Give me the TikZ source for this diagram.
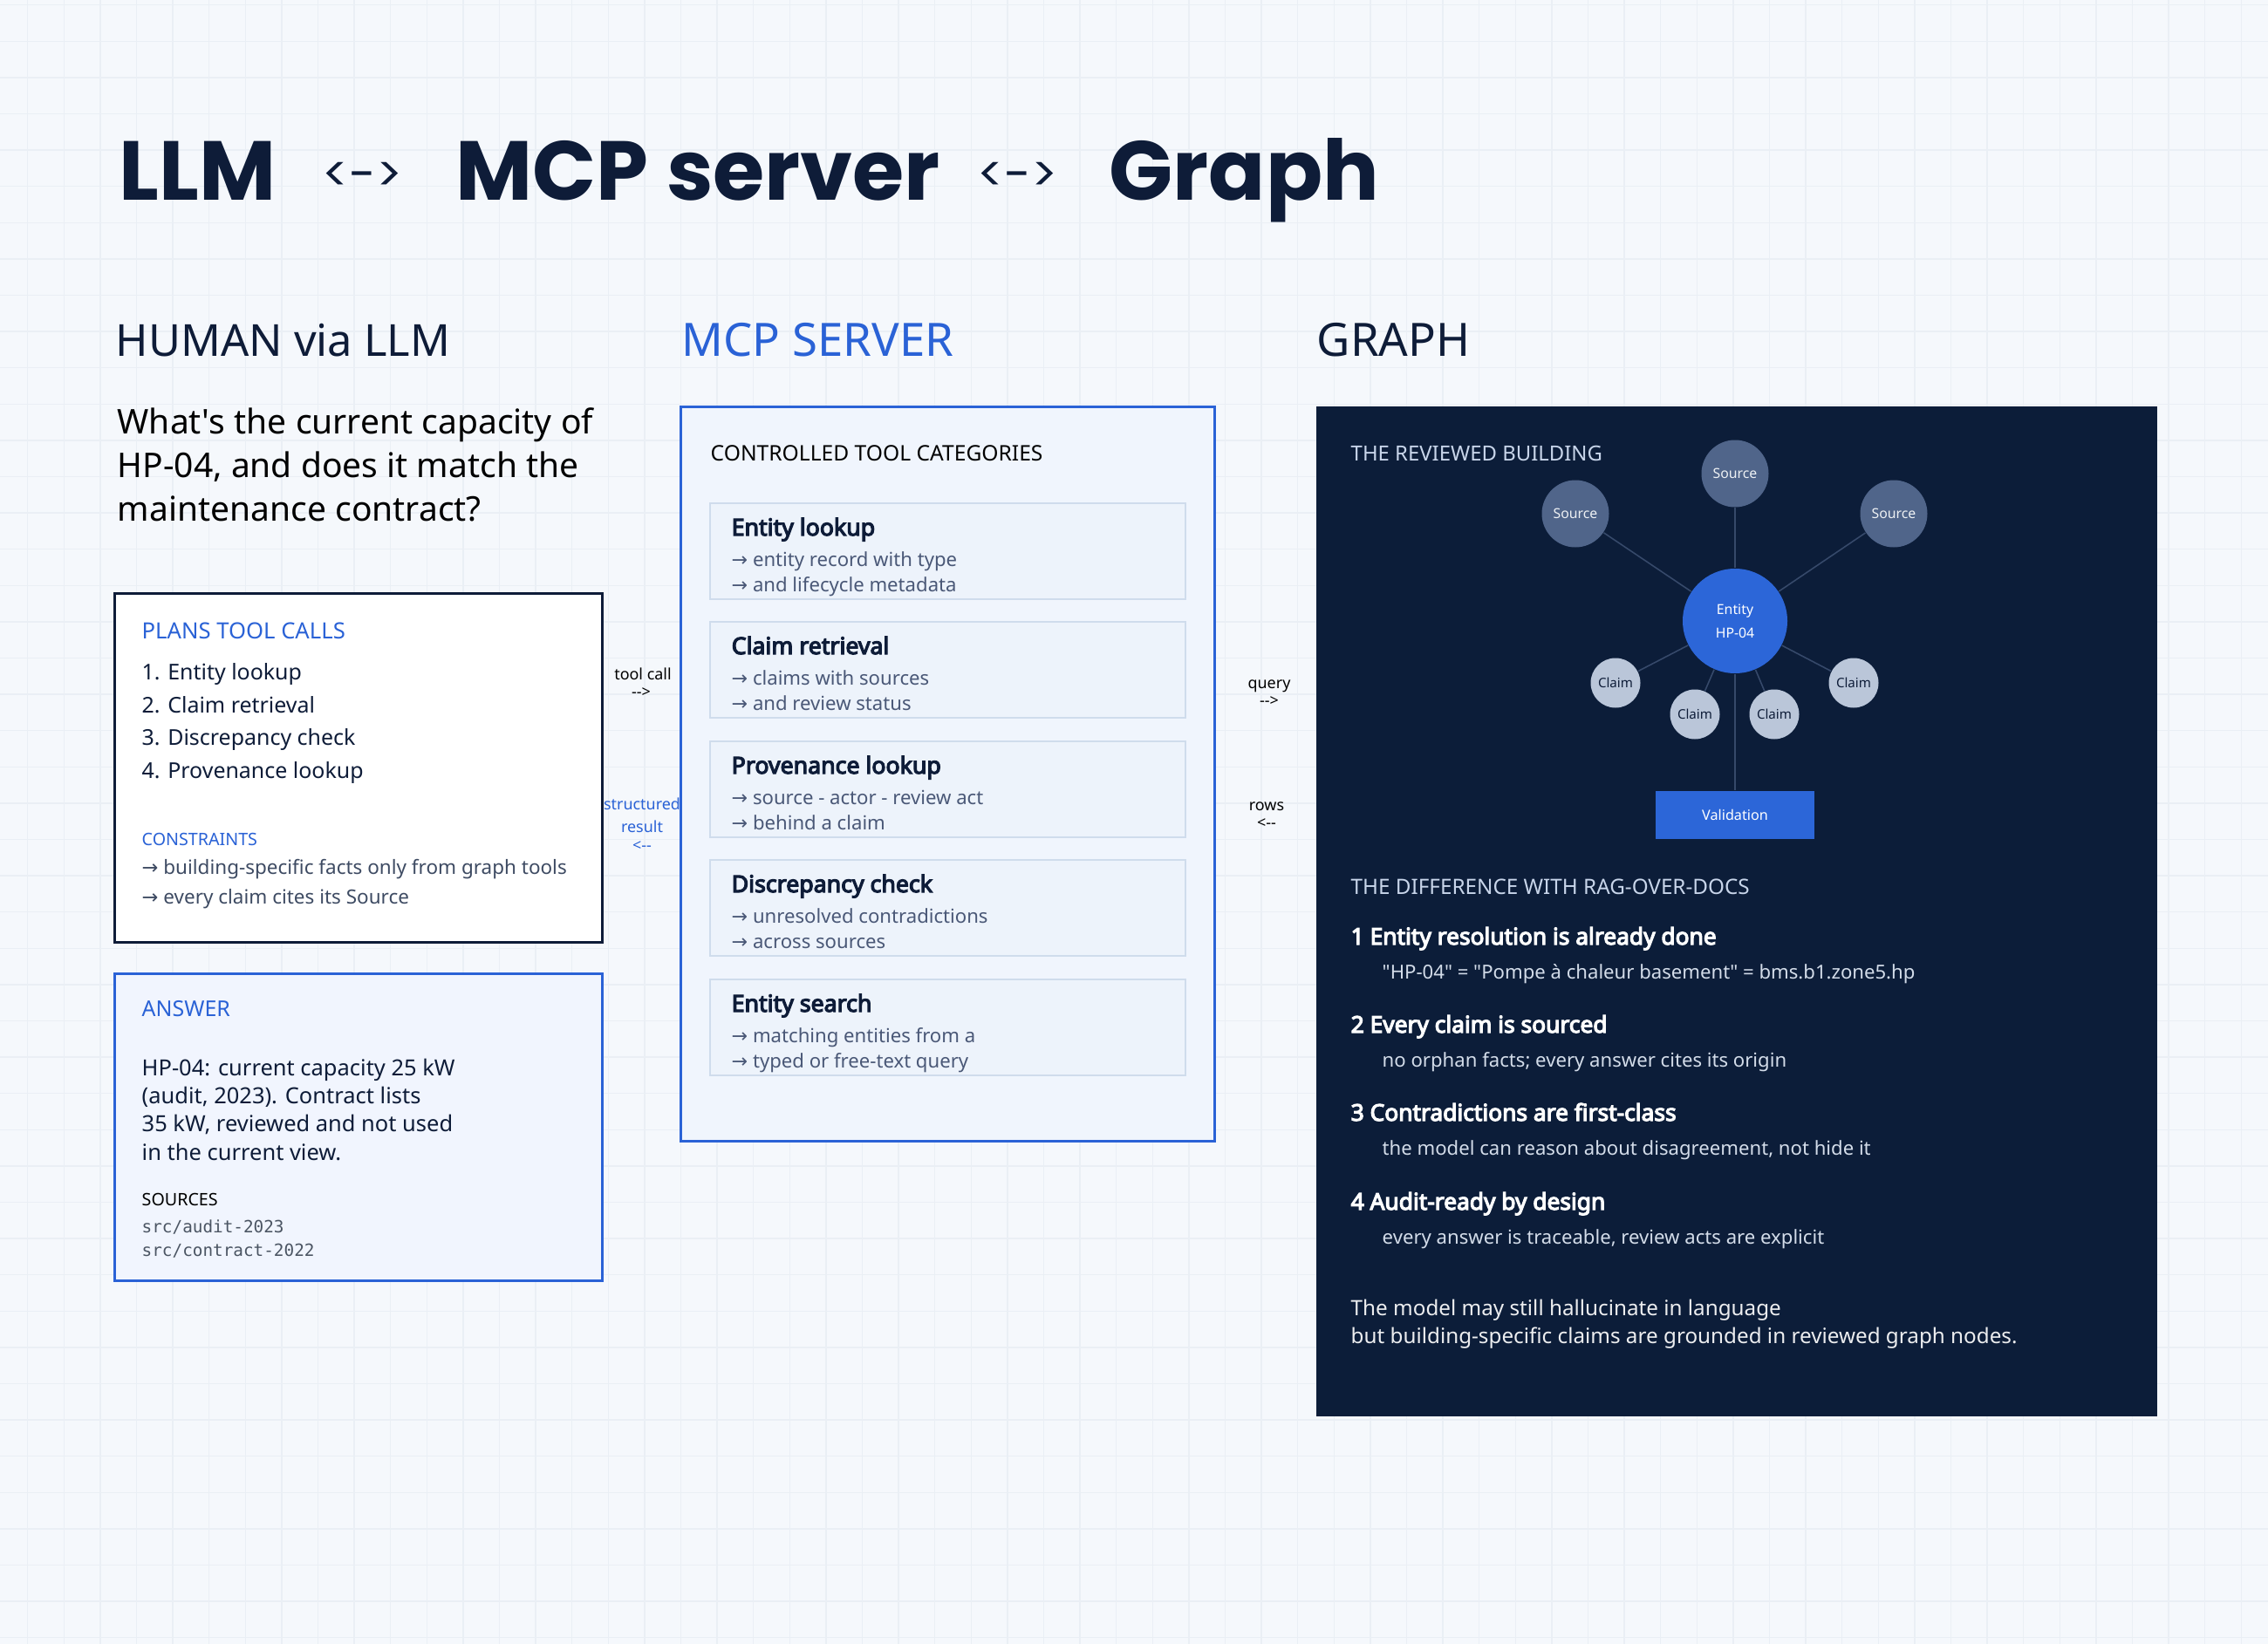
\documentclass[tikz,border=0pt]{standalone}
\usepackage{fontspec}
\setmainfont{Noto Sans}[BoldFont={Noto Sans},BoldFeatures={FakeBold=4.5}]
\setmonofont{DejaVu Sans Mono}
\newfontfamily\titlefont{Poppins}
\newfontfamily\symfont{DejaVu Sans}
\newcommand{\rarr}{{\symfont →}}
\newcommand{\fwd}{-\kern0pt-\kern0pt>}
\newcommand{\bwd}{<\kern0pt-\kern0pt-}

\definecolor{bgcol}{HTML}{F5F8FC}
\definecolor{gridcol}{HTML}{EAEFF5}
\definecolor{navy}{HTML}{0E1C38}
\definecolor{accent}{HTML}{2A62D6}
\definecolor{slate}{HTML}{3E4B63}
\definecolor{mcpfill}{HTML}{F0F5FD}
\definecolor{toolfill}{HTML}{EDF3FB}
\definecolor{toolrule}{HTML}{CFDCEC}
\definecolor{toolgray}{HTML}{4A5877}
\definecolor{ansfill}{HTML}{F1F5FE}
\definecolor{panel}{HTML}{0C1D39}
\definecolor{srcfill}{HTML}{50658A}
\definecolor{clmfill}{HTML}{BAC6D9}
\definecolor{edgecol}{HTML}{36496A}
\definecolor{entfill}{HTML}{2C66D8}
\definecolor{paleblue}{HTML}{C8D5EA}
\definecolor{paletext}{HTML}{D3DCE9}
\definecolor{monogray}{HTML}{4B5563}

\begin{document}
\begin{tikzpicture}[x=1cm,y=-1cm,
  txt/.style={inner sep=0pt,anchor=base west},
  ctr/.style={inner sep=0pt,anchor=base},
  card/.style={anchor=north west,inner sep=0pt,line width=0.85pt},
  toolcard/.style={card,draw=toolrule,fill=toolfill,line width=0.6pt,minimum width=5.45cm,minimum height=1.10cm},
  tooltitle/.style={txt,font=\bfseries\fontsize{7.6}{8}\selectfont,text=navy},
  tooltxt/.style={txt,font=\fontsize{6.3}{7.5}\selectfont,text=toolgray},
  kicker/.style={txt,font=\fontsize{7.0}{8}\selectfont},
  small/.style={txt,font=\fontsize{5.6}{6.5}\selectfont},
  head/.style={txt,font=\fontsize{14.4}{17}\selectfont},
  body/.style={txt,font=\fontsize{7.1}{8.5}\selectfont},
  tiny/.style={ctr,font=\fontsize{5.1}{6}\selectfont},
  dot/.style={circle,inner sep=0pt,font=\fontsize{4.5}{7.6}\selectfont},
  srcnode/.style={dot,fill=srcfill,text=white!90!srcfill,minimum size=0.77cm},
  entnode/.style={dot,fill=entfill,text=white,minimum size=1.20cm,align=center},
  clmnode/.style={dot,fill=clmfill,text=navy,minimum size=0.57cm,font=\fontsize{4.3}{5}\selectfont},
  link/.style={draw=edgecol,line width=0.45pt}
]
% page and grid
\useasboundingbox (0,0) rectangle (26,18.85);
\fill[bgcol] (0,0) rectangle (26,18.85);
\foreach \i in {0,...,62}
  \draw[gridcol,line width=0.4pt] ({0.317+0.416*\i},0) -- ++(0,18.85);
\foreach \j in {0,...,45}
  \draw[gridcol,line width=0.4pt] (0,{0.057+0.416*\j}) -- ++(26,0);

% title
\begin{scope}[inner sep=0pt,anchor=base west,text=navy]
\node[font=\titlefont\bfseries\fontsize{27.3}{32}\selectfont] (llm) at (1.36,2.30) {LLM};
\node[font=\titlefont\fontsize{15.9}{18}\selectfont] (arr1) at (3.69,2.19) {<->};
\node[font=\titlefont\bfseries\fontsize{27.3}{32}\selectfont] (mcpt) at (5.22,2.30) {MCP server};
\node[font=\titlefont\fontsize{15.9}{18}\selectfont] (arr2) at (11.20,2.19) {<->};
\node[font=\titlefont\bfseries\fontsize{27.3}{32}\selectfont] (graph) at (12.71,2.30) {Graph};
\end{scope}

% column heads
\node[head,text=navy] (human) at (1.32,4.09) {HUMAN via LLM};
\node[head,text=accent,font=\fontsize{15.0}{17}\selectfont] (server) at (7.81,4.09) {MCP SERVER};
\node[head,text=navy,font=\fontsize{15.0}{17}\selectfont] (graphhead) at (15.09,4.09) {GRAPH};

% question
\begin{scope}[txt,font=\fontsize{11.1}{14}\selectfont,text=black]
\node (q1) at (1.34,4.97) {What\textquotesingle s the current capacity of};
\node (q2) at (1.34,5.47) {HP-04, and does it match the};
\node (q3) at (1.34,5.97) {maintenance contract?};
\end{scope}

% plans box
\node[card,draw=navy,fill=white,minimum width=5.59cm,minimum height=4.00cm] (plans) at (1.30,6.79) {};
\node[kicker,text=accent,font=\fontsize{7.3}{8}\selectfont] (plantitle) at (1.62,7.32) {PLANS TOOL CALLS};
\begin{scope}[body,text=navy]
\node (p1) at (1.62,7.79) {1. Entity lookup};
\node (p2) at (1.62,8.17) {2. Claim retrieval};
\node (p3) at (1.62,8.54) {3. Discrepancy check};
\node (p4) at (1.62,8.92) {4. Provenance lookup};
\end{scope}
\node[small,text=accent] (cons) at (1.62,9.69) {CONSTRAINTS};
\begin{scope}[tooltxt,text=slate,font=\fontsize{6.4}{7.5}\selectfont]
\node (c1txt) at (1.62,10.02) {\rarr{} building-specific facts only from graph tools};
\node (c2txt) at (1.62,10.36) {\rarr{} every claim cites its Source};
\end{scope}

% answer box
\node[card,draw=accent,fill=ansfill,minimum width=5.59cm,minimum height=3.52cm] (answer) at (1.30,11.15) {};
\node[kicker,text=accent,font=\fontsize{7.1}{8}\selectfont] (anstitle) at (1.62,11.65) {ANSWER};
\begin{scope}[body,text=navy,font=\fontsize{7.25}{8.5}\selectfont]
\node (a1) at (1.62,12.33) {HP-04: current capacity 25 kW};
\node (a2) at (1.62,12.65) {(audit, 2023). Contract lists};
\node (a3) at (1.62,12.97) {35 kW, reviewed and not used};
\node (a4) at (1.62,13.30) {in the current view.};
\end{scope}
\node[small,text=black] (srchead) at (1.62,13.82) {SOURCES};
\begin{scope}[txt,font=\ttfamily\fontsize{5.5}{6.5}\selectfont,text=monogray]
\node (src1) at (1.62,14.13) {src/audit-2023};
\node (src2) at (1.62,14.40) {src/contract-2022};
\end{scope}

% between llm and server
\node[tiny,text=black] (tc) at (7.37,7.79) {tool call};
\node[tiny,text=black] (tcarr) at (7.35,7.99) {\fwd};
\begin{scope}[tiny,text=accent]
\node (sr1) at (7.36,9.28) {structured};
\node (sr2) at (7.36,9.54) {result};
\node (sr3) at (7.36,9.75) {\bwd};
\end{scope}

% mcp server
\node[card,draw=accent,fill=mcpfill,minimum width=6.12cm,minimum height=8.42cm] (mcp) at (7.79,4.65) {};
\node[kicker,text=black] (cats) at (8.14,5.28) {CONTROLLED TOOL CATEGORIES};
\node[toolcard] (t1) at (8.13,5.76) {};
\node[toolcard] (t2) at (8.13,7.12) {};
\node[toolcard] (t3) at (8.13,8.49) {};
\node[toolcard] (t4) at (8.13,9.85) {};
\node[toolcard] (t5) at (8.13,11.22) {};
\node[tooltitle] (t1h) at (8.38,6.14) {Entity lookup};
\node[tooltxt] (t1a) at (8.38,6.49) {\rarr{} entity record with type};
\node[tooltxt] (t1b) at (8.38,6.78) {\rarr{} and lifecycle metadata};
\node[tooltitle] (t2h) at (8.38,7.50) {Claim retrieval};
\node[tooltxt] (t2a) at (8.38,7.85) {\rarr{} claims with sources};
\node[tooltxt] (t2b) at (8.38,8.14) {\rarr{} and review status};
\node[tooltitle] (t3h) at (8.38,8.87) {Provenance lookup};
\node[tooltxt] (t3a) at (8.38,9.22) {\rarr{} source - actor - review act};
\node[tooltxt] (t3b) at (8.38,9.51) {\rarr{} behind a claim};
\node[tooltitle] (t4h) at (8.38,10.23) {Discrepancy check};
\node[tooltxt] (t4a) at (8.38,10.58) {\rarr{} unresolved contradictions};
\node[tooltxt] (t4b) at (8.38,10.87) {\rarr{} across sources};
\node[tooltitle] (t5h) at (8.38,11.60) {Entity search};
\node[tooltxt] (t5a) at (8.38,11.95) {\rarr{} matching entities from a};
\node[tooltxt] (t5b) at (8.38,12.24) {\rarr{} typed or free-text query};

% between server and graph
\begin{scope}[tiny,text=black]
\node (qry) at (14.55,7.89) {query};
\node (qryarr) at (14.55,8.09) {\fwd};
\node (rows) at (14.52,9.29) {rows};
\node (rowsarr) at (14.52,9.49) {\bwd};
\end{scope}

% graph panel
\node[card,fill=panel,minimum width=9.64cm,minimum height=11.57cm] (gpanel) at (15.07,4.65) {};
\node[kicker,text=paleblue,font=\fontsize{6.8}{7.5}\selectfont] (reviewed) at (15.48,5.28) {THE REVIEWED BUILDING};

\node[srcnode] (s1) at (19.89,5.43) {Source};
\node[srcnode] (s2) at (18.06,5.89) {Source};
\node[srcnode] (s3) at (21.71,5.89) {Source};
\node[entnode] (ent) at (19.89,7.12) {Entity\\HP-04};
\node[clmnode] (k1) at (18.52,7.83) {Claim};
\node[clmnode] (k2) at (19.43,8.19) {Claim};
\node[clmnode] (k3) at (20.34,8.19) {Claim};
\node[clmnode] (k4) at (21.25,7.83) {Claim};
\node[fill=entfill,text=white,inner sep=0pt,minimum width=1.82cm,minimum height=0.55cm,font=\fontsize{4.6}{5.5}\selectfont] (val) at (19.89,9.345) {Validation};

\draw[link] (ent) -- (s1);
\draw[link] (ent) -- (s2);
\draw[link] (ent) -- (s3);
\draw[link] (ent) -- (k1);
\draw[link] (ent) -- (k2);
\draw[link] (ent) -- (k3);
\draw[link] (ent) -- (k4);
\draw[link] (ent) -- (val);

\node[kicker,text=paleblue,font=\fontsize{6.9}{7.5}\selectfont] (diff) at (15.48,10.25) {THE DIFFERENCE WITH RAG-OVER-DOCS};
\begin{scope}[txt,font=\bfseries\fontsize{7.5}{8}\selectfont,text=white]
\node (d1) at (15.48,10.83) {1 Entity resolution is already done};
\node (d2) at (15.48,11.84) {2 Every claim is sourced};
\node (d3) at (15.48,12.85) {3 Contradictions are first-class};
\node (d4) at (15.48,13.87) {4 Audit-ready by design};
\end{scope}
\begin{scope}[txt,font=\fontsize{6.3}{7.5}\selectfont,text=paletext]
\node (e1) at (15.84,11.22) {\textquotedbl HP-04\textquotedbl{} = \textquotedbl Pompe à chaleur basement\textquotedbl{} = bms.b1.zone5.hp};
\node (e2) at (15.84,12.23) {no orphan facts; every answer cites its origin};
\node (e3) at (15.84,13.24) {the model can reason about disagreement, not hide it};
\node (e4) at (15.84,14.26) {every answer is traceable, review acts are explicit};
\end{scope}
\begin{scope}[txt,font=\fontsize{6.9}{8}\selectfont,text=white!92!panel]
\node (f1) at (15.48,15.08) {The model may still hallucinate in language};
\node (f2) at (15.48,15.40) {but building-specific claims are grounded in reviewed graph nodes.};
\end{scope}
\end{tikzpicture}
\end{document}
